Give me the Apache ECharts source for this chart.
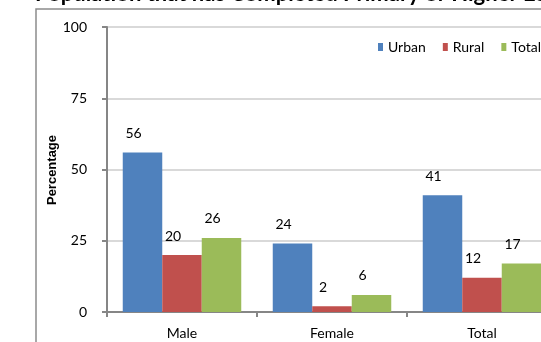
<!DOCTYPE html>
<html>
<head>
<meta charset="utf-8">
<script src="https://cdn.jsdelivr.net/npm/echarts@6/dist/echarts.min.js"></script>
<style>
  html, body { margin: 0; padding: 0; background: #fff; overflow: hidden; }
  /* the plot runs past the right edge of the picture, so the canvas is a bit wider */
  #main { width: 557px; height: 342px; }
</style>
</head>
<body>
<div id="main"></div>
<script>
// 数据
var categories = ['Male', 'Female', 'Total'];
var urban = [56, 24, 41];
var rural = [20, 2, 12];
var total = [26, 6, 17];
var yTicks = [0, 25, 50, 75, 100];

var font = 'Lato, "Liberation Sans", sans-serif';

// 初始化echarts实例
var myChart = echarts.init(document.getElementById('main'));

function barSeries(name, data, color) {
    return {
        name: name,
        type: 'bar',
        data: data,
        barGap: '0%',
        barCategoryGap: '21%',
        itemStyle: { color: color },
        label: {
            show: true,
            position: 'top',
            distance: 12,
            offset: [-9, 0],
            color: '#000',
            fontSize: 14,
            fontFamily: font
        }
    };
}

var option = {
    animation: false,
    backgroundColor: '#fff',
    graphic: [
        // 标题 (cut off at the top like the picture)
        {
            type: 'text',
            left: 35,
            top: -17,
            style: {
                text: 'Population that has Completed Primary or Higher Education',
                font: 'bold 22px ' + font,
                fill: '#000'
            }
        },
        // y轴名称
        {
            type: 'text',
            x: 52,
            y: 170,
            rotation: Math.PI / 2,
            style: {
                text: 'Percentage',
                font: 'bold 13px "Liberation Sans", sans-serif',
                fill: '#000',
                align: 'center',
                verticalAlign: 'middle'
            }
        },
        {
            type: 'polyline',
            shape: { points: [[36, 342], [36, 9], [557, 9]] },
            style: { stroke: '#8c8c8c', lineWidth: 1.5, fill: null }
        }
    ],
    // 图例
    legend: {
        data: ['Urban', 'Rural', 'Total'],
        right: 11,
        top: 35,
        icon: 'rect',
        itemWidth: 5,
        itemHeight: 8,
        itemGap: 17,
        textStyle: { fontSize: 14, fontFamily: font, color: '#000' }
    },
    grid: { left: 107, right: 0, top: 27, bottom: 30 },
    xAxis: {
        type: 'category',
        data: categories,
        axisLine: { lineStyle: { color: '#868686', width: 2 } },
        axisTick: { show: true, length: 5, lineStyle: { color: '#868686', width: 2 } },
        axisLabel: { color: '#000', fontSize: 14, fontFamily: font, margin: 14 }
    },
    yAxis: {
        type: 'value',
        min: yTicks[0],
        max: yTicks[yTicks.length - 1],
        interval: 25,
        axisLine: { show: true, lineStyle: { color: '#868686', width: 2 } },
        axisTick: { show: true, length: 5, lineStyle: { color: '#868686', width: 2 } },
        axisLabel: { color: '#000', fontSize: 14, fontFamily: font, margin: 20 },
        splitLine: { lineStyle: { color: '#d9d9d9', width: 2 } }
    },
    series: [
        barSeries('Urban', urban, '#4f81bd'),
        barSeries('Rural', rural, '#c0504d'),
        barSeries('Total', total, '#9bbb59')
    ]
};

myChart.setOption(option);
</script>
</body>
</html>
